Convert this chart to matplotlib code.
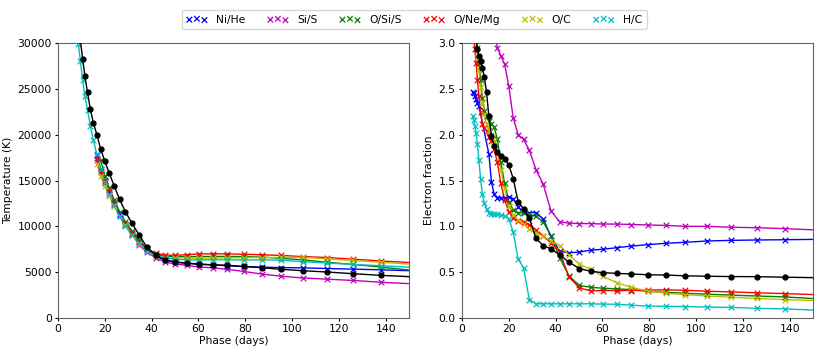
import numpy as np
import matplotlib
matplotlib.use("Agg")
import matplotlib.pyplot as plt

n = np.nan

# Phase grid (days)
phase = [4.57, 5.01, 5.50, 6.03, 6.61, 7.24, 7.94, 8.71, 9.55, 10.5,
         11.5, 12.6, 13.8, 15.1, 16.6, 18.2, 20.0, 21.9, 24.0, 26.3,
         28.8, 31.6, 34.7, 38.0, 41.7, 45.7, 50.1, 55.0, 60.3, 66.1,
         72.4, 79.4, 87.1, 95.5, 104.7, 114.8, 125.9, 138.0, 151.4]

labels = ["Ni/He", "Si/S", "O/Si/S", "O/Ne/Mg", "O/C", "H/C"]
colors = ["b", "m", "g", "r", "y", "c"]

# Temperature (K)
temp_nihe = [n]*14 + [17800, 16300, 15000, 13700, 12500, 11300, 10200, 9200, 8300, 7500,
                      6800, 6300, 6100, 6000, 5900, 5800, 5700, 5620, 5550, 5500,
                      5470, 5400, 5330, 5260, 5150]
temp_sis = [n]*14 + [17200, 15900, 14700, 13500, 12300, 11200, 10200, 9100, 8000, 7150,
                     6600, 6100, 5900, 5750, 5550, 5480, 5300, 5080, 4790, 4550,
                     4370, 4240, 4100, 3900, 3730]
temp_osis = [n]*15 + [17200, 15500, 14200, 12900, 11600, 10500, 9500, 8500, 7600,
                      7000, 6700, 6700, 6700, 6700, 6720, 6720, 6700, 6650, 6500,
                      6350, 6080, 5850, 5550, 5200]
temp_onemg = [n]*14 + [17500, 16000, 15000, 14000, 12500, 11100, 10300, 9300, 8300, 7500,
                       7100, 6850, 6850, 6900, 7000, 7000, 7000, 6950, 6900, 6820,
                       6700, 6600, 6420, 6220, 6040]
temp_oc = [n]*14 + [16800, 15500, 14400, 13300, 12200, 11100, 10100, 9100, 8100, 7300,
                    6800, 6500, 6550, 6550, 6500, 6550, 6550, 6600, 6600, 6620,
                    6620, 6450, 6280, 6080, 5860]
temp_hc = [n]*6 + [31800, 29900, 28000, 26000, 24200, 22700, 21000, 19400, 17850, 16300,
                   14800, 13500, 12300, 11100, 10000, 9050, 8150, 7350, 6850, 6550,
                   6400, 6330, 6330, 6350, 6350, 6330, 6350, 6300, 6150, 6000,
                   5850, 5700, 5530]
temp_ref = [n]*7 + [32000, 30300, 28300, 26400, 24600, 22800, 21300, 20000, 18450, 17100,
                    15800, 14400, 12950, 11600, 10330, 9050, 7720, 6850, 6330, 6110,
                    5960, 5850, 5800, 5750, 5620, 5490, 5310, 5160, 5020, 4840,
                    4650, 4500]

# Electron fraction
ef_nihe = [2.46, 2.45, 2.42, 2.39, 2.35, 2.31, n, n, n, n,
           1.79, 1.48, 1.35, 1.31, 1.31, 1.31, 1.32, 1.30, 1.21, 1.16,
           1.15, 1.15, 1.08, 0.89, 0.73, 0.71, 0.72, 0.74, 0.75, 0.767,
           0.785, 0.80, 0.815, 0.826, 0.84, 0.847, 0.851, 0.854, 0.858]
ef_sis = [n]*12 + [3.2, 2.95, 2.86, 2.77, 2.53, 2.18, 2.0, 1.95, 1.83, 1.62,
                   1.46, 1.17, 1.05, 1.035, 1.03, 1.03, 1.025, 1.025, 1.02, 1.015,
                   1.01, 1.0, 1.0, 0.99, 0.985, 0.975, 0.96]
ef_osis = [n]*2 + [3.5, 3.2, 2.95, 2.78, 2.6, 2.4, 2.26, 2.2, 2.15, 2.12,
                   2.08, 1.95, 1.70, 1.47, 1.27, 1.18, 1.15, 1.145, 1.13, 1.11,
                   1.05, 0.90, 0.66, 0.46, 0.355, 0.335, 0.325, 0.318, 0.31, 0.29,
                   0.28, 0.27, 0.26, 0.25, 0.24, 0.23, 0.21]
ef_onemg = [3.3, 3.05, 2.93, 2.78, 2.6, 2.42, 2.25, 2.12, 2.07, 2.04,
            1.98, 1.93, 1.84, 1.70, 1.47, 1.29, 1.16, 1.09, 1.06, 1.05,
            1.02, 0.96, 0.9, 0.82, 0.72, 0.45, 0.33, 0.295, 0.30, 0.30,
            0.30, 0.305, 0.308, 0.302, 0.292, 0.285, 0.275, 0.266, 0.255]
ef_oc = [n]*2 + [3.3, 3.05, 2.85, 2.7, 2.52, 2.35, 2.22, 2.12, 2.05, 2.0,
                 1.93, 1.82, 1.62, 1.42, 1.22, 1.12, 1.07, 1.03, 0.97, 0.93,
                 0.89, 0.845, 0.79, 0.69, 0.59, 0.53, 0.455, 0.385, 0.335, 0.295,
                 0.27, 0.255, 0.24, 0.228, 0.213, 0.2, 0.19]
ef_hc = [2.20, 2.16, 2.10, 2.02, 1.90, 1.72, 1.52, 1.35, 1.25, 1.19,
         1.15, 1.14, 1.13, 1.13, 1.125, 1.115, 1.08, 0.94, 0.64, 0.55,
         0.20, 0.155, 0.155, 0.155, 0.155, 0.155, 0.155, 0.155, 0.152, 0.15,
         0.14, 0.13, 0.128, 0.124, 0.12, 0.116, 0.106, 0.099, 0.086]
ef_ref = [n]*3 + [3.05, 2.93, 2.86, 2.80, 2.73, 2.63, 2.46, 2.20, 1.99, 1.88,
                  1.81, 1.77, 1.74, 1.67, 1.52, 1.27, 1.19, 1.09, 0.87, 0.79,
                  0.755, 0.69, 0.61, 0.54, 0.51, 0.494, 0.487, 0.48, 0.472, 0.469,
                  0.46, 0.456, 0.452, 0.451, 0.445, 0.44]

temp_models = [temp_nihe, temp_sis, temp_osis, temp_onemg, temp_oc, temp_hc]
ef_models = [ef_nihe, ef_sis, ef_osis, ef_onemg, ef_oc, ef_hc]

plt.rcParams["font.size"] = 7.75
plt.rcParams["xtick.major.size"] = 2.5
plt.rcParams["ytick.major.size"] = 2.5
plt.rcParams["xtick.major.pad"] = 2
plt.rcParams["ytick.major.pad"] = 2

fig = plt.figure(figsize=(8.3, 3.58), dpi=100)
ax1 = fig.add_axes([0.0699, 0.1117, 0.4229, 0.7682])
ax2 = fig.add_axes([0.5566, 0.1117, 0.4229, 0.7682])

t = np.array(phase)


# Model plotter - line plus x markers, reference in black circles
def panel(ax, models, ref):
    for vals, col, lab in zip(models, colors, labels):
        v = np.array(vals, dtype=float)
        m = ~np.isnan(v)
        ax.plot(t[m], v[m], color=col, lw=1)
        ax.scatter(t[m], v[m], marker="x", color=col, s=16, lw=0.9, label=lab, zorder=2.5)
    v = np.array(ref, dtype=float)
    m = ~np.isnan(v)
    ax.plot(t[m], v[m], "k-", marker="o", ms=3.5, lw=1, zorder=3)
    ax.set_xlim(0, 150)
    ax.set_xlabel("Phase (days)", labelpad=1)
    for s in ax.spines.values():
        s.set_color("0.4")
        s.set_linewidth(0.8)


panel(ax1, temp_models, temp_ref)
ax1.set_ylim(0, 30000)
ax1.set_ylabel("Temperature (K)", labelpad=3)

panel(ax2, ef_models, ef_ref)
ax2.set_ylim(0, 3)
ax2.set_ylabel("Electron fraction", labelpad=3)

handles, labs = ax1.get_legend_handles_labels()
fig.legend(handles, labs, loc="center", bbox_to_anchor=(0.499, 0.9455),
           ncol=6, scatterpoints=3, fontsize=7.75)

fig.savefig("out.png", dpi=100)
